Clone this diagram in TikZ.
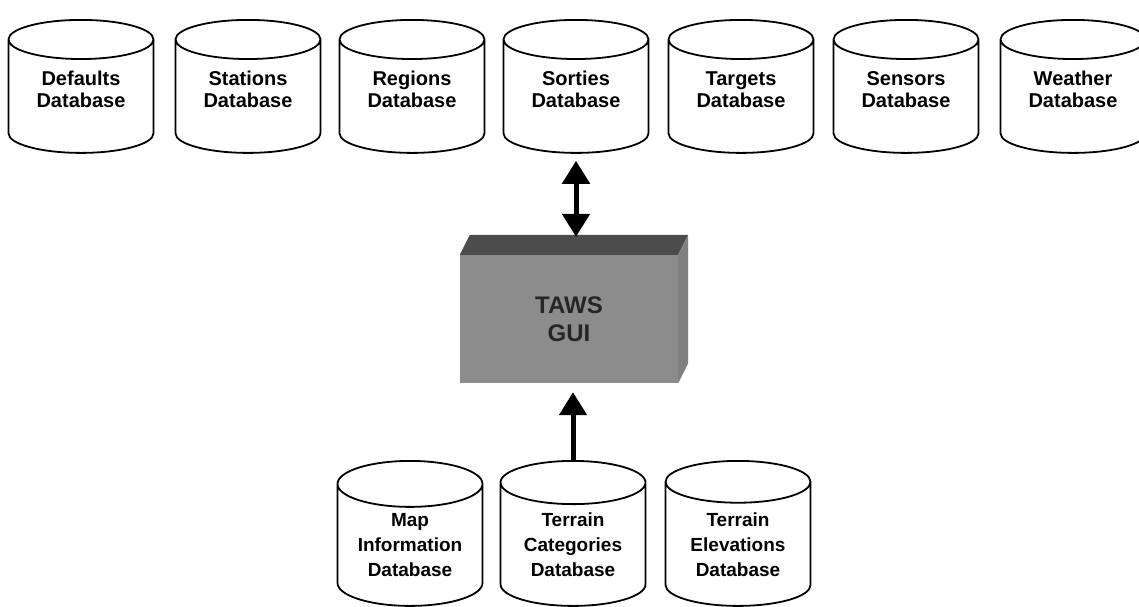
\documentclass[tikz,border=0pt]{standalone}
\usepackage{fontspec}
\setmainfont{Liberation Sans}
\usetikzlibrary{shapes.geometric}
\usetikzlibrary{arrows.meta}
\begin{document}
\begin{tikzpicture}[x=1pt, y=-1pt,
    database/.style={draw, line width=1.8pt, cylinder, shape border rotate=90, aspect=0.44,
      minimum width=145pt, minimum height=133pt, inner sep=0pt, align=center, anchor=north,
      text depth=14pt, font=\fontsize{20}{22}\selectfont\bfseries},
    lowdatabase/.style={database, minimum height=145pt, text depth=0pt,
      font=\fontsize{19}{25}\selectfont\bfseries},
    guibox/.style={fill=black!45, minimum width=218pt, minimum height=128pt, inner sep=0pt,
      align=center, text=black!85, font=\fontsize{24}{28}\selectfont\bfseries},
    bigarrow/.style={line width=5pt, -{Triangle[width=27pt,length=23pt]}},
]
\useasboundingbox (0,0) rectangle (1139,606);
% databases along the top
\node[database] (defaults) at (81,19) {Defaults\\Database};
\node[database] (stations) at (248,19) {Stations\\Database};
\node[database] (regions) at (412,19) {Regions\\Database};
\node[database] (sorties) at (576,19) {Sorties\\Database};
\node[database] (targets) at (741,19) {Targets\\Database};
\node[database] (sensors) at (906,19) {Sensors\\Database};
\node[database] (weather) at (1073,19) {Weather\\Database};

% the GUI box
\node[guibox] (gui) at (569,319) {TAWS\\GUI};
\fill[black!70] (gui.north west) -- ++(10,-20) -- ([xshift=10pt, yshift=20pt]gui.north east) -- (gui.north east) -- cycle;
\fill[black!50] (gui.north east) -- ++(10,-20) -- ([xshift=10pt, yshift=20pt]gui.south east) -- (gui.south east) -- cycle;
\coordinate (guitop) at ([yshift=18pt]gui.north);

% databases along the bottom
\node[lowdatabase] (mapinfo) at (410,460) {Map\\Information\\Database};
\node[lowdatabase] (terraincat) at (573,460) {Terrain\\Categories\\Database};
\node[lowdatabase] (terrainelev) at (738,460) {Terrain\\Elevations\\Database};

\draw[bigarrow, {Triangle[width=27pt,length=23pt]}-{Triangle[width=27pt,length=23pt]}] ([yshift=-7pt]sorties.south) -- (sorties.south |- guitop);
\draw[bigarrow] (terraincat.north) -- ([yshift=-9pt]terraincat.north |- gui.south);
\end{tikzpicture}
\end{document}
